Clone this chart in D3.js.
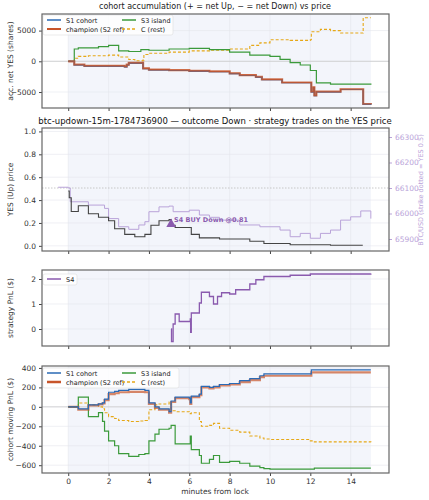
<!DOCTYPE html><html><head><meta charset="utf-8">
<script src="https://cdn.jsdelivr.net/npm/d3@7"></script>
<style>body{margin:0;background:#fff}text{font-family:"DejaVu Sans",sans-serif}</style></head><body>
<svg id="c" width="429" height="500"></svg>
<script>
// ---- data ----
const accT_S1=[0,0.3,0.8,2.8,2.9,3,3.7,3.71,4,5,6,7,8,8.5,9.3,9.6,10.6,12,12.05,12.15,12.2,12.3,13,13.5,14.6,14.62,15];
const accS1=[0,-600,-800,-900,-600,-300,-250,-1200,-1400,-1500,-1600,-1700,-2000,-2300,-2600,-3000,-3500,-3500,-5000,-4300,-5600,-5000,-5000,-4600,-4600,-7000,-7100];
const accChamp=[0,-550,-750,-850,-550,-250,-200,-1150,-1350,-1450,-1550,-1650,-1950,-2250,-2550,-2950,-3450,-3450,-4950,-4250,-5550,-4950,-4950,-4550,-4550,-6950,-7050];
const accT_S3=[0,0.3,0.5,1.5,2,2.5,3,3.6,4,5,6,7,8,9,10,10.5,11,11.5,12,12.3,13,15];
const accS3=[0,2000,2200,2400,2600,1700,1600,1900,1800,2000,2100,1900,1500,1000,800,300,-200,-600,-1500,-3500,-3700,-3800];
const accT_C=[0,0.3,0.5,1,2,2.5,2.8,3,3.3,3.7,3.75,4,5,6,7,8,9,9.5,10,11,12,12.05,12.5,13,13.5,14.6,14.62,15];
const accC=[0,500,800,900,1000,700,700,300,100,200,1100,1300,1500,1700,1800,2000,2600,3000,3500,3400,3500,4800,5200,5000,4600,4600,7100,7100];

const yesT=[0,0.05,0.15,0.5,1,1.5,2,2.3,2.8,3.3,3.8,4.1,4.5,5,5.1,5.3,6,6.1,6.5,7.5,9,9.7,11,13,14.6];
const yesP=[0.48,0.42,0.3,0.35,0.28,0.25,0.22,0.15,0.1,0.08,0.1,0.18,0.22,0.23,0.18,0.16,0.16,0.1,0.07,0.06,0.04,0.02,0.01,0.005,0.005];
const btcT=[-0.5,0,0.1,1,1.8,2,2.5,3,3.5,3.8,4,4.5,5,5.2,6,6.5,7,7.5,8.5,9.5,10.5,11,11.5,12,12.5,13,13.5,14,14.5,15];
const btcP=[66103,66100,66046,66033,66020,65980,65948,65938,65955,65968,66007,66026,66029,66007,66013,65994,65985,65974,65955,65948,65935,65909,65922,65903,65922,65935,65974,65987,66010,65980];
const strike=66100;
const trade={t:5.1,p:0.19,label:"S4 BUY Down @0.81"};

const s4T=[5.1,5.12,5.2,5.3,5.5,6,6.05,6.07,6.1,6.5,6.6,7,7.2,7.4,7.6,8,8.3,9,9.3,9.7,10,11,12,13,14,15];
const s4P=[0,-0.5,0.2,0.6,0.3,0.3,0.4,-0.13,0.64,1.04,1.47,1.3,1.0,1.3,1.45,1.4,1.57,1.8,1.97,2.1,2.1,2.15,2.2,2.2,2.2,2.22];

const pnlT=[0,0.5,1,1.5,1.7,1.8,2,2.3,2.5,3,3.5,3.8,4,4.3,4.5,5,5.1,5.3,6,6.05,6.1,6.5,6.6,7,7.2,7.5,8,8.5,9,9.5,9.7,10,12,12.05,12.2,12.5,15];
const pnlS1=[0,-20,20,30,40,80,150,160,170,180,180,170,40,0,-20,-50,60,100,90,40,110,130,210,200,210,230,240,270,290,320,340,340,340,380,380,380,380];
const pnlChamp=[0,-30,15,25,35,70,130,140,150,155,155,150,30,-10,-30,-60,50,90,80,30,100,120,200,190,200,220,230,255,275,305,320,320,320,355,355,355,355];
const pnlS3=[0,100,-100,-60,-150,-250,-350,-400,-480,-510,-490,-480,-350,-280,-230,-220,-190,-380,-380,-300,-440,-500,-580,-540,-500,-570,-560,-580,-610,-625,-635,-640,-640,-640,-630,-630,-630];
const pnlC=[0,40,20,0,-20,-60,-100,-120,-140,-150,-145,-140,-30,20,30,50,-40,-50,-60,-70,-60,-150,-200,-190,-170,-220,-240,-260,-300,-320,-330,-335,-350,-350,-360,-360,-365];

const xTicks=[0,2,4,6,8,10,12,14];
// ---- draw ----
const svg=d3.select("#c");
const L=42,R=389;
const x=d3.scaleLinear().domain([-1.3,15.9]).range([L,R]);
const col={s1:"#2a6ab5",ch:"#c8552a",s3:"#3b9a3b",c:"#e6a817",s4:"#8a5aae",btc:"#b9a3d9"};
function panel(top,bot,dom,ticks,fmt,ylabel,xlab){
  const y=d3.scaleLinear().domain(dom).range([bot,top]);
  const g=svg.append("g");
  g.append("rect").attr("x",L).attr("y",top).attr("width",R-L).attr("height",bot-top).attr("fill","#fff");
  g.append("rect").attr("x",x(0)).attr("y",top).attr("width",x(15)-x(0)).attr("height",bot-top).attr("fill","#f3f5fb");
  xTicks.forEach(t=>g.append("line").attr("x1",x(t)).attr("x2",x(t)).attr("y1",top).attr("y2",bot).attr("stroke","#e4e6ec").attr("stroke-width",0.6));
  ticks.forEach(t=>g.append("line").attr("x1",L).attr("x2",R).attr("y1",y(t)).attr("y2",y(t)).attr("stroke","#e4e6ec").attr("stroke-width",0.6));
  const ya=g.append("g").attr("transform",`translate(${L},0)`).call(d3.axisLeft(y).tickValues(ticks).tickFormat(fmt).tickSize(3));
  const xa=g.append("g").attr("transform",`translate(0,${bot})`).call(d3.axisBottom(x).tickValues(xTicks).tickSize(3).tickFormat(xlab?d3.format("d"):""));
  [ya,xa].forEach(a=>{a.select(".domain").remove();a.selectAll("text").attr("font-size",7.5).attr("fill","#333");a.selectAll("line").attr("stroke","#444");});
  svg.append("text").attr("transform",`translate(13,${(top+bot)/2}) rotate(-90)`).attr("text-anchor","middle").attr("font-size",7.5).attr("fill","#333").text(ylabel);
  return {g,y,top,bot};
}
function frame(p){svg.append("rect").attr("x",L).attr("y",p.top).attr("width",R-L).attr("height",p.bot-p.top).attr("fill","none").attr("stroke","#666").attr("stroke-width",1.2);}
function line(p,T,V,color,w,dash,op,curve){
  const data=T.map((t,i)=>[t,V[i]]);
  p.g.append("path").datum(data).attr("fill","none").attr("stroke",color).attr("stroke-width",w).attr("stroke-dasharray",dash||null).attr("opacity",op||1)
   .attr("d",d3.line().x(d=>x(d[0])).y(d=>p.y(d[1])).curve(curve||d3.curveStepAfter));
}
function legend(p,items,x0,y0,bw){
  const rows=Math.ceil(items.length/2);
  p.g.append("rect").attr("x",x0-4).attr("y",y0-5).attr("width",bw).attr("height",rows*9+2).attr("rx",2).attr("fill","#fff").attr("fill-opacity",0.8).attr("stroke","#ddd").attr("stroke-width",0.6);
  items.forEach((it,i)=>{const cx=x0+(i%2)*75, cy=y0+Math.floor(i/2)*9;
    p.g.append("line").attr("x1",cx).attr("x2",cx+14).attr("y1",cy).attr("y2",cy).attr("stroke",it.c).attr("stroke-width",it.w||1.5).attr("stroke-dasharray",it.d||null);
    p.g.append("text").attr("x",cx+19).attr("y",cy+2.5).attr("font-size",6.5).attr("fill","#222").text(it.n);});
}
const fmtK=d=>d3.format("d")(d).replace("-","\u2212");
// panel 1
svg.append("text").attr("x",215).attr("y",9).attr("text-anchor","middle").attr("font-size",8).attr("fill","#222").text("cohort accumulation (+ = net Up, \u2212 = net Down) vs price");
const p1=panel(14,108,[-7600,7700],[-5000,0,5000],fmtK,"acc. net YES (shares)",false);
p1.g.append("line").attr("x1",L).attr("x2",R).attr("y1",p1.y(0)).attr("y2",p1.y(0)).attr("stroke","#ccc").attr("stroke-width",0.8);
line(p1,accT_C,accC,col.c,1.1,"3,2");
line(p1,accT_S3,accS3,col.s3,1.2);
line(p1,accT_S1,accChamp,col.ch,2.2,null,0.8);
line(p1,accT_S1,accS1,col.s1,1.1);
line(p1,accT_S1,accChamp,col.ch,1.1,null,0.9);
legend(p1,[{n:"S1 cohort",c:col.s1},{n:"S3 island",c:col.s3},{n:"champion (S2 ref)",c:col.ch,w:2},{n:"C (rest)",c:col.c,d:"3,2"}],47,20,130);
frame(p1);
// panel 2
svg.append("text").attr("x",215).attr("y",124).attr("text-anchor","middle").attr("font-size",8.5).attr("fill","#111").text("btc-updown-15m-1784736900 \u2014 outcome Down \u00b7 strategy trades on the YES price");
const p2=panel(128,251,[-0.045,1.03],[0,0.2,0.4,0.6,0.8,1.0],d3.format(".1f"),"YES (Up) price",false);
const yb=d3.scaleLinear().domain([65900,66300]).range([239,137]);
p2.g.append("line").attr("x1",L).attr("x2",R).attr("y1",yb(strike)).attr("y2",yb(strike)).attr("stroke","#bbb").attr("stroke-dasharray","1.5,1.5").attr("stroke-width",0.8);
p2.g.append("path").datum(btcT.map((t,i)=>[t,btcP[i]])).attr("fill","none").attr("stroke",col.btc).attr("stroke-width",1)
 .attr("d",d3.line().x(d=>x(d[0])).y(d=>yb(d[1])).curve(d3.curveStepAfter));
line(p2,yesT,yesP,"#444",1.1);
p2.g.append("path").attr("d",d3.symbol(d3.symbolTriangle,40)()).attr("transform",`translate(${x(trade.t)},${p2.y(trade.p)})`).attr("fill",col.s4);
p2.g.append("text").attr("x",x(trade.t)+3).attr("y",p2.y(trade.p)-2).attr("font-size",6.5).attr("font-weight","bold").attr("fill",col.s4).text(trade.label);
const ra=svg.append("g").attr("transform",`translate(${R},0)`).call(d3.axisRight(yb).tickValues([65900,66000,66100,66200,66300]).tickFormat(d3.format("d")).tickSize(3));
ra.select(".domain").remove();ra.selectAll("text").attr("font-size",7.5).attr("fill",col.btc);ra.selectAll("line").attr("stroke",col.btc);
svg.append("text").attr("transform",`translate(423,190) rotate(-90)`).attr("text-anchor","middle").attr("font-size",6.5).attr("fill",col.btc).text("BTC/USD (strike dotted = YES 0.5)");
frame(p2);
// panel 3
const p3=panel(270,346,[-0.68,2.36],[0,1,2],d3.format("d"),"strategy PnL ($)",false);
line(p3,s4T,s4P,col.s4,1.3);
legend(p3,[{n:"S4",c:col.s4}],47,279,34);
frame(p3);
// panel 4
const p4=panel(366,473,[-680,420],[-600,-400,-200,0,200,400],fmtK,"cohort moving PnL ($)",true);
p4.g.append("line").attr("x1",L).attr("x2",R).attr("y1",p4.y(0)).attr("y2",p4.y(0)).attr("stroke","#ccc").attr("stroke-width",0.8);
line(p4,pnlT,pnlC,col.c,1.1,"3,2");
line(p4,pnlT,pnlS3,col.s3,1.2);
line(p4,pnlT,pnlChamp,col.ch,2.2,null,0.7);
line(p4,pnlT,pnlS1,col.s1,1.2);
legend(p4,[{n:"S1 cohort",c:col.s1},{n:"S3 island",c:col.s3},{n:"champion (S2 ref)",c:col.ch,w:2.5},{n:"C (rest)",c:col.c,d:"3,2"}],47,373,136);
frame(p4);
svg.append("text").attr("x",215).attr("y",494).attr("text-anchor","middle").attr("font-size",7.5).attr("fill","#333").text("minutes from lock");
</script></body></html>
